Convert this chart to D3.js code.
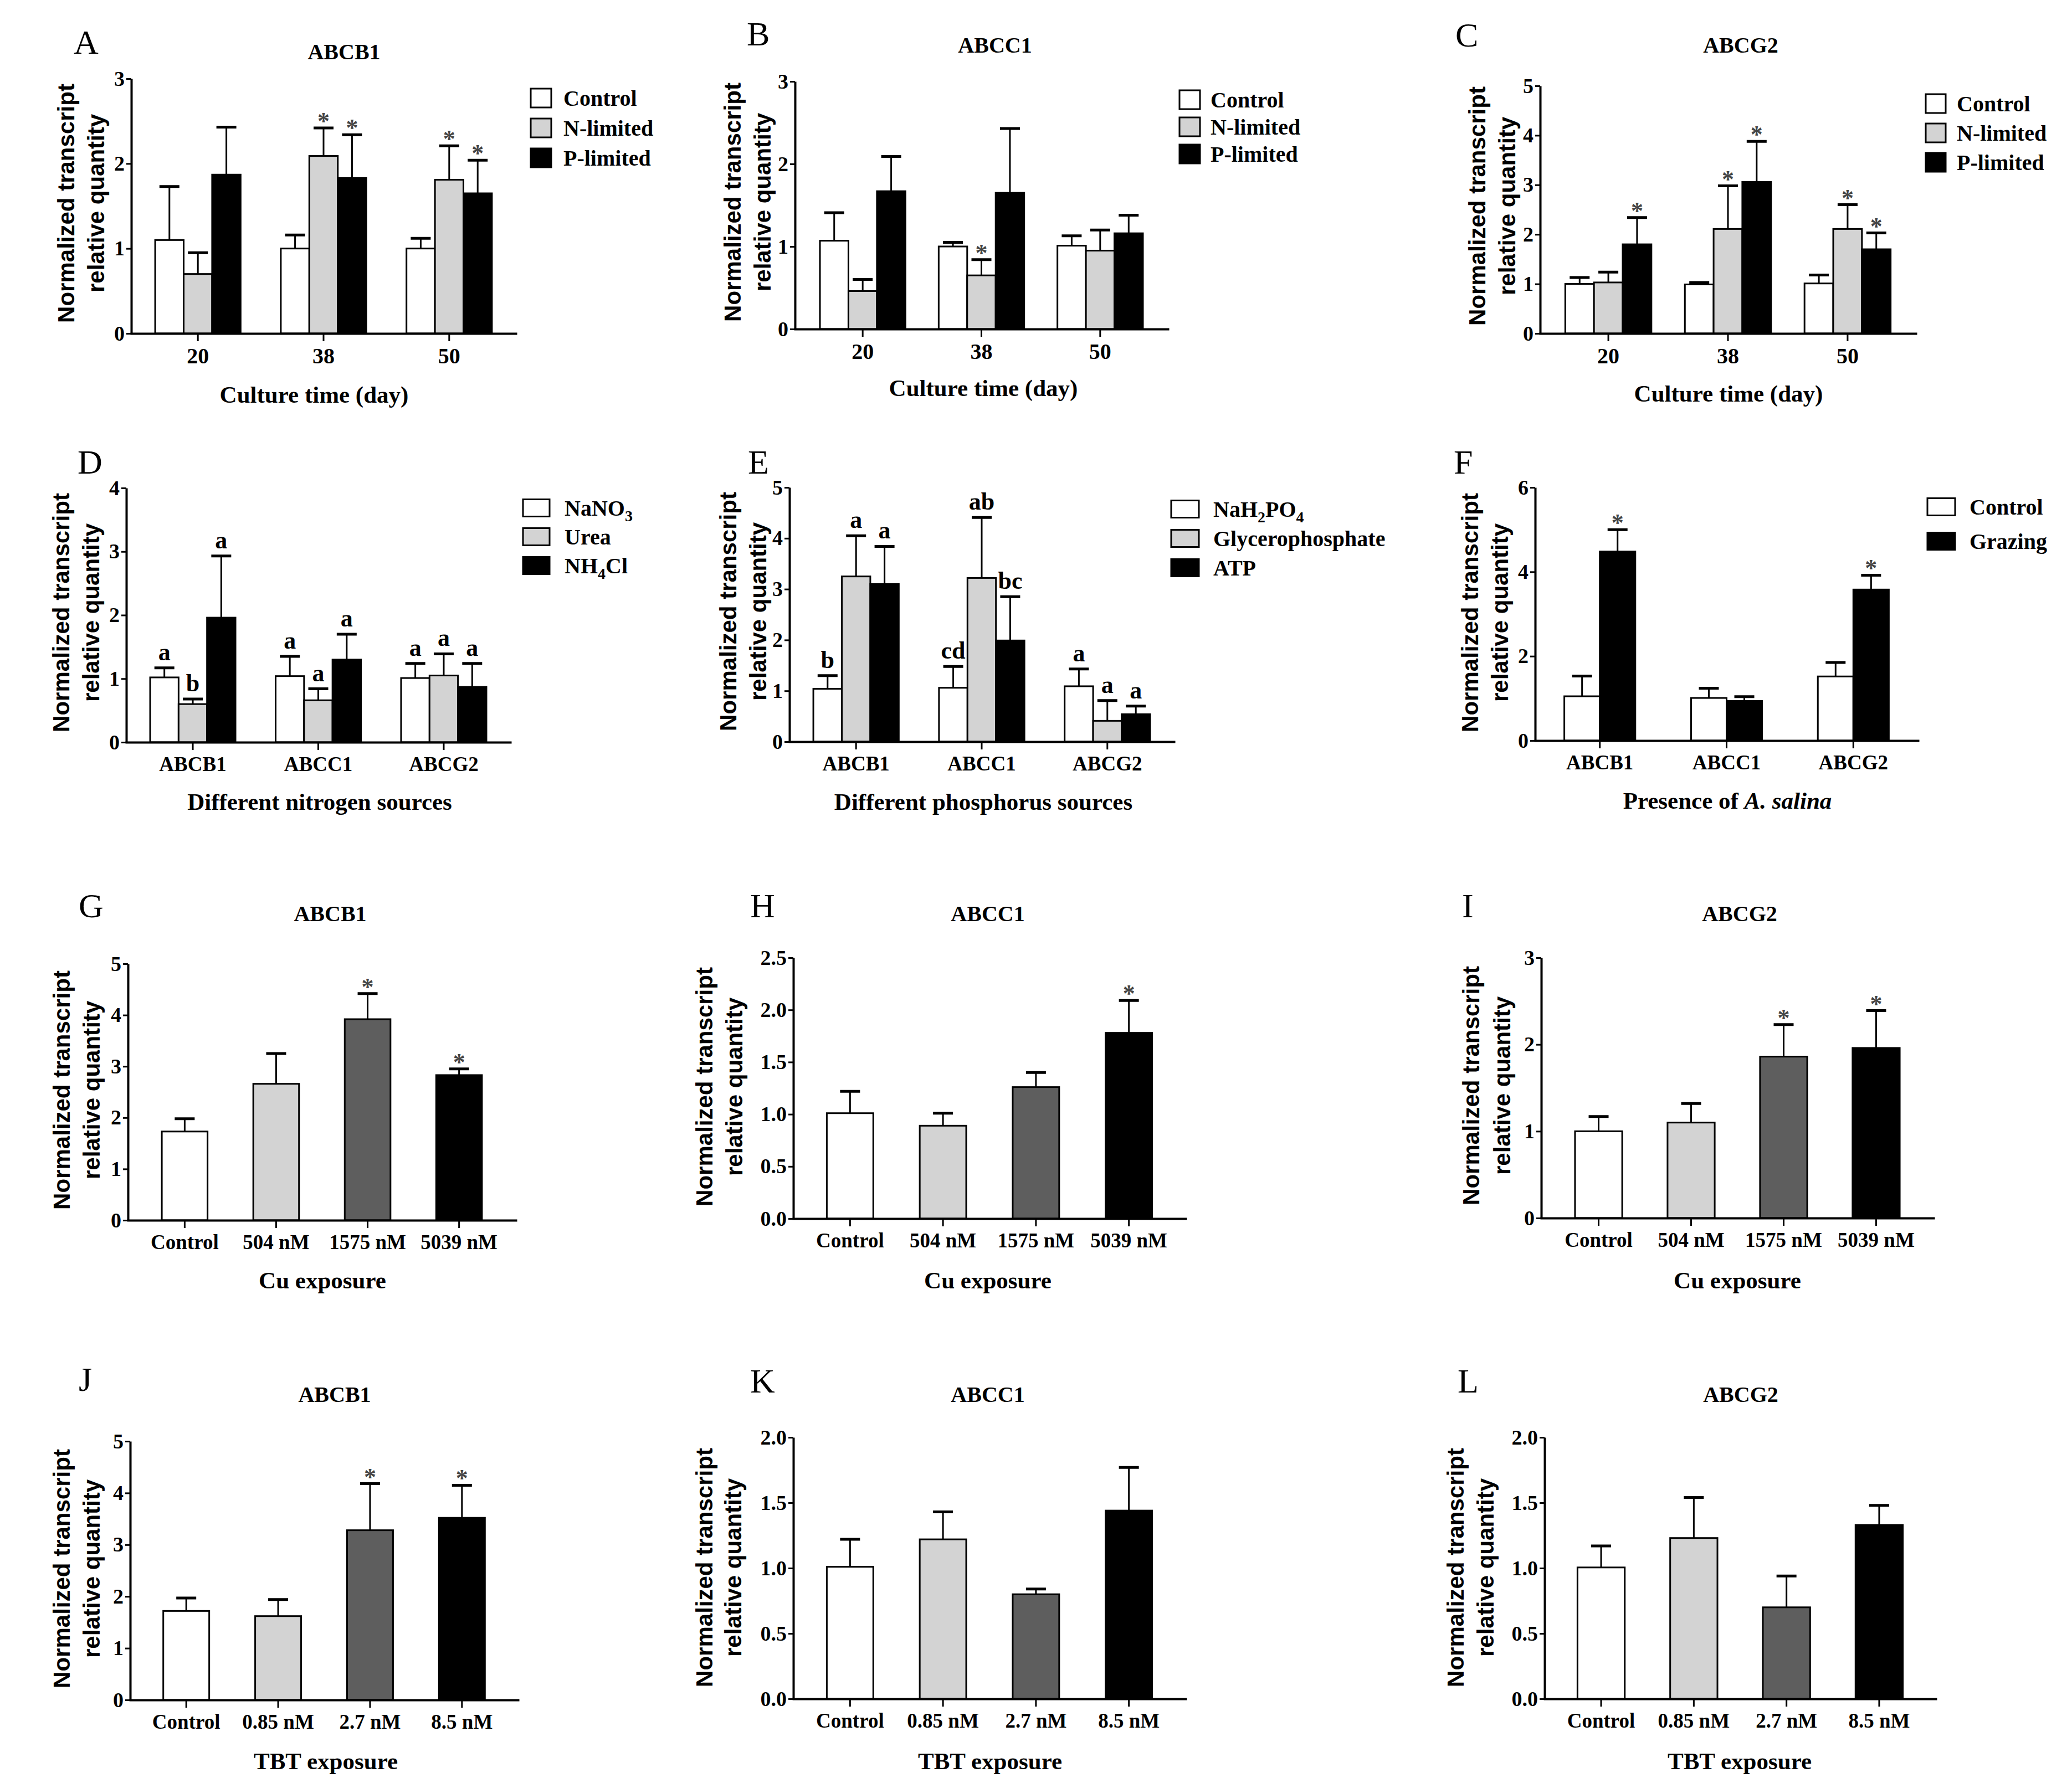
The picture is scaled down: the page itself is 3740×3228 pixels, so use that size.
<!DOCTYPE html>
<html>
<head>
<meta charset="utf-8">
<script src="https://cdn.jsdelivr.net/npm/d3@7"></script>
<style>
  body { margin: 0; background: #fff; }
  text { font-family: "Liberation Serif", "Times New Roman", serif; font-weight: bold; }
</style>
</head>
<body>
<svg id="fig"></svg>
<script>
// ---- categories ----
const cultureDays = ['20', '38', '50'];
const limitSeries = ['Control', 'N-limited', 'P-limited'];
const genes = ['ABCB1', 'ABCC1', 'ABCG2'];
const nSources = ['NaNO3', 'Urea', 'NH4Cl'];
const pSources = ['NaH2PO4', 'Glycerophosphate', 'ATP'];
const grazeSeries = ['Control', 'Grazing'];
const cuDoses = ['Control', '504 nM', '1575 nM', '5039 nM'];
const tbtDoses = ['Control', '0.85 nM', '2.7 nM', '8.5 nM'];

// ---- A-C: nutrient limitation, rows = day, cols = Control / N-limited / P-limited ----
const limAbcb1Mean = [[1.10, 0.70, 1.87], [1.00, 2.09, 1.83], [1.00, 1.81, 1.65]];
const limAbcb1Err  = [[0.63, 0.25, 0.56], [0.16, 0.33, 0.51], [0.12, 0.40, 0.39]];
const limAbcb1Sig  = [['', '', ''], ['', '*', '*'], ['', '*', '*']];

const limAbcc1Mean = [[1.07, 0.46, 1.67], [1.00, 0.65, 1.65], [1.01, 0.95, 1.16]];
const limAbcc1Err  = [[0.34, 0.14, 0.42], [0.05, 0.19, 0.78], [0.12, 0.25, 0.22]];
const limAbcc1Sig  = [['', '', ''], ['', '*', ''], ['', '', '']];

const limAbcg2Mean = [[1.00, 1.03, 1.80], [0.99, 2.11, 3.06], [1.01, 2.11, 1.70]];
const limAbcg2Err  = [[0.13, 0.21, 0.54], [0.04, 0.87, 0.82], [0.17, 0.49, 0.33]];
const limAbcg2Sig  = [['', '', '*'], ['', '*', '*'], ['', '*', '*']];

// ---- D: nitrogen source, rows = gene ----
const nitroMean = [[1.02, 0.60, 1.96], [1.04, 0.66, 1.30], [1.01, 1.05, 0.87]];
const nitroErr  = [[0.15, 0.08, 0.97], [0.31, 0.18, 0.40], [0.23, 0.34, 0.37]];
const nitroSig  = [['a', 'b', 'a'], ['a', 'a', 'a'], ['a', 'a', 'a']];

// ---- E: phosphorus source ----
const phosMean = [[1.04, 3.25, 3.10], [1.06, 3.22, 1.99], [1.09, 0.41, 0.54]];
const phosErr  = [[0.26, 0.80, 0.74], [0.42, 1.19, 0.86], [0.34, 0.40, 0.16]];
const phosSig  = [['b', 'a', 'a'], ['cd', 'ab', 'bc'], ['a', 'a', 'a']];

// ---- F: grazing ----
const grazeMean = [[1.05, 4.48], [1.01, 0.94], [1.52, 3.58]];
const grazeErr  = [[0.48, 0.52], [0.23, 0.10], [0.33, 0.34]];
const grazeSig  = [['', '*'], ['', ''], ['', '*']];

// ---- G-I: Cu exposure ----
const cuAbcb1Mean = [1.73, 2.66, 3.92, 2.83];
const cuAbcb1Err  = [0.25, 0.59, 0.50, 0.12];
const cuAbcb1Sig  = ['', '', '*', '*'];
const cuAbcc1Mean = [1.01, 0.89, 1.26, 1.78];
const cuAbcc1Err  = [0.21, 0.12, 0.14, 0.31];
const cuAbcc1Sig  = ['', '', '', '*'];
const cuAbcg2Mean = [1.00, 1.10, 1.86, 1.96];
const cuAbcg2Err  = [0.17, 0.22, 0.37, 0.43];
const cuAbcg2Sig  = ['', '', '*', '*'];

// ---- J-L: TBT exposure ----
const tbtAbcb1Mean = [1.72, 1.62, 3.28, 3.52];
const tbtAbcb1Err  = [0.25, 0.32, 0.90, 0.63];
const tbtAbcb1Sig  = ['', '', '*', '*'];
const tbtAbcc1Mean = [1.01, 1.22, 0.80, 1.44];
const tbtAbcc1Err  = [0.21, 0.21, 0.04, 0.33];
const tbtAbcc1Sig  = ['', '', '', ''];
const tbtAbcg2Mean = [1.005, 1.23, 0.70, 1.33];
const tbtAbcg2Err  = [0.165, 0.31, 0.24, 0.15];
const tbtAbcg2Sig  = ['', '', '', ''];

// ---- y tick values ----
const ticks3 = [0, 1, 2, 3];
const ticks4 = [0, 1, 2, 3, 4];
const ticks5 = [0, 1, 2, 3, 4, 5];
const ticks6 = [0, 2, 4, 6];
const ticks25 = [0, 0.5, 1, 1.5, 2, 2.5];
const ticks20 = [0, 0.5, 1, 1.5, 2];

const fill3 = ['#ffffff', '#d3d3d3', '#000000'];
const fill2 = ['#ffffff', '#000000'];
const fill4 = ['#ffffff', '#d3d3d3', '#5e5e5e', '#000000'];

const W = 3740, H = 3228;
const svg = d3.select('#fig').attr('width', W).attr('height', H);
svg.append('rect').attr('width', W).attr('height', H).attr('fill', '#fff');

const intFmt = d3.format('d');
const decFmt = d3.format('.1f');

// layout of each panel (pixel positions live here, not in the data)
const panels = [
  { id: 'A', letter: [133, 97], head: ['ABCB1', 621, 107],
    cats: cultureDays, series: limitSeries, mean: limAbcb1Mean, err: limAbcb1Err, sig: limAbcb1Sig,
    fills: fill3, ticks: ticks3, fmt: intFmt, x0: 237, x1: 931, y0: 602, yTop: 142, pi: 0.32, po: 0.19,
    xTitle: [['Culture time (day)']], xt: [567, 727], yLab: [119, 173, 367],
    legend: { x: 958, y: 177, dy: 54, w: 37, h: 34, tx: 1017 } },
  { id: 'B', letter: [1348, 82], head: ['ABCC1', 1796, 95],
    cats: cultureDays, series: limitSeries, mean: limAbcc1Mean, err: limAbcc1Err, sig: limAbcc1Sig,
    fills: fill3, ticks: ticks3, fmt: intFmt, x0: 1435, x1: 2108, y0: 594, yTop: 147, pi: 0.28, po: 0.21,
    xTitle: [['Culture time (day)']], xt: [1775, 715], yLab: [1322, 1376, 365],
    legend: { x: 2129, y: 180, dy: 49, w: 37, h: 34, tx: 2185 } },
  { id: 'C', letter: [2627, 84], head: ['ABCG2', 3142, 95],
    cats: cultureDays, series: limitSeries, mean: limAbcg2Mean, err: limAbcg2Err, sig: limAbcg2Sig,
    fills: fill3, ticks: ticks5, fmt: intFmt, x0: 2780, x1: 3458, y0: 602, yTop: 155, pi: 0.28, po: 0.21,
    xTitle: [['Culture time (day)']], xt: [3120, 725], yLab: [2666, 2720, 372],
    legend: { x: 3476, y: 187, dy: 53, w: 36, h: 34, tx: 3532 } },
  { id: 'D', letter: [140, 855], head: null,
    cats: genes, series: nSources, mean: nitroMean, err: nitroErr, sig: nitroSig,
    fills: fill3, ticks: ticks4, fmt: intFmt, x0: 228, x1: 921, y0: 1340, yTop: 881, pi: 0.32, po: 0.19,
    xTitle: [['Different nitrogen sources']], xt: [577, 1462], yLab: [110, 164, 1106],
    legend: { x: 944, y: 917, dy: 52, w: 48, h: 31, tx: 1019 } },
  { id: 'E', letter: [1350, 855], head: null,
    cats: genes, series: pSources, mean: phosMean, err: phosErr, sig: phosSig,
    fills: fill3, ticks: ticks5, fmt: intFmt, x0: 1425, x1: 2119, y0: 1339, yTop: 880, pi: 0.32, po: 0.19,
    xTitle: [['Different phosphorus sources']], xt: [1775, 1462], yLab: [1314, 1368, 1104],
    legend: { x: 2114, y: 919, dy: 53, w: 50, h: 31, tx: 2190 } },
  { id: 'F', letter: [2624, 855], head: null,
    cats: genes, series: grazeSeries, mean: grazeMean, err: grazeErr, sig: grazeSig,
    fills: fill2, ticks: ticks6, fmt: intFmt, x0: 2771, x1: 3462, y0: 1337, yTop: 880, pi: 0.44, po: 0.23,
    xTitle: [['Presence of '], ['A. salina', true]], xt: [3118, 1460], yLab: [2653, 2707, 1106],
    legend: { x: 3479, y: 915, dy: 62, w: 50, h: 31, tx: 3555 } },
  { id: 'G', letter: [142, 1656], head: ['ABCB1', 596, 1663],
    cats: cuDoses, mean: cuAbcb1Mean, err: cuAbcb1Err, sig: cuAbcb1Sig,
    fills: fill4, ticks: ticks5, fmt: intFmt, x0: 231, x1: 931, y0: 2203, yTop: 1740, pi: 0.5, po: 0.37,
    xTitle: [['Cu exposure']], xt: [582, 2326], yLab: [111, 165, 1968] },
  { id: 'H', letter: [1354, 1656], head: ['ABCC1', 1783, 1663],
    cats: cuDoses, mean: cuAbcc1Mean, err: cuAbcc1Err, sig: cuAbcc1Sig,
    fills: fill4, ticks: ticks25, fmt: decFmt, x0: 1432, x1: 2140, y0: 2200, yTop: 1729, pi: 0.5, po: 0.36,
    xTitle: [['Cu exposure']], xt: [1783, 2326], yLab: [1271, 1325, 1962] },
  { id: 'I', letter: [2639, 1656], head: ['ABCG2', 3140, 1663],
    cats: cuDoses, mean: cuAbcg2Mean, err: cuAbcg2Err, sig: cuAbcg2Sig,
    fills: fill4, ticks: ticks3, fmt: intFmt, x0: 2782, x1: 3490, y0: 2199, yTop: 1729, pi: 0.49, po: 0.365,
    xTitle: [['Cu exposure']], xt: [3136, 2326], yLab: [2655, 2711, 1960] },
  { id: 'J', letter: [142, 2511], head: ['ABCB1', 604, 2531],
    cats: tbtDoses, mean: tbtAbcb1Mean, err: tbtAbcb1Err, sig: tbtAbcb1Sig,
    fills: fill4, ticks: ticks5, fmt: intFmt, x0: 235, x1: 935, y0: 3069, yTop: 2602, pi: 0.5, po: 0.36,
    xTitle: [['TBT exposure']], xt: [588, 3194], yLab: [111, 165, 2832] },
  { id: 'K', letter: [1354, 2514], head: ['ABCC1', 1783, 2531],
    cats: tbtDoses, mean: tbtAbcc1Mean, err: tbtAbcc1Err, sig: tbtAbcc1Sig,
    fills: fill4, ticks: ticks20, fmt: decFmt, x0: 1432, x1: 2140, y0: 3067, yTop: 2595, pi: 0.5, po: 0.36,
    xTitle: [['TBT exposure']], xt: [1787, 3194], yLab: [1271, 1323, 2830] },
  { id: 'L', letter: [2631, 2514], head: ['ABCG2', 3142, 2531],
    cats: tbtDoses, mean: tbtAbcg2Mean, err: tbtAbcg2Err, sig: tbtAbcg2Sig,
    fills: fill4, ticks: ticks20, fmt: decFmt, x0: 2788, x1: 3494, y0: 3067, yTop: 2595, pi: 0.49, po: 0.355,
    xTitle: [['TBT exposure']], xt: [3140, 3194], yLab: [2627, 2681, 2830] }
];

// writes "NaH2PO4" style labels with digits as subscripts
const chemText = (sel, label) => {
  label.split(/(\d+)/).forEach((part, i) => {
    if (!part) return;
    const t = sel.append('tspan').text(part);
    if (i % 2 === 1) t.attr('font-size', 28).attr('dy', 10);
    else if (i > 0) t.attr('dy', -10);
  });
};

const render = p => {
  const g = svg.append('g').attr('class', 'panel-' + p.id);
  const grouped = Array.isArray(p.mean[0]);

  // one record per bar
  const bars = p.cats.flatMap((c, ci) => grouped
    ? p.mean[ci].map((m, si) => ({ cat: c, si, m, e: p.err[ci][si], s: p.sig[ci][si], fill: p.fills[si] }))
    : [{ cat: c, si: 0, m: p.mean[ci], e: p.err[ci], s: p.sig[ci], fill: p.fills[ci] }]);
  const nSeries = grouped ? p.mean[0].length : 1;

  const x = d3.scaleBand().domain(p.cats).range([p.x0, p.x1])
    .paddingInner(p.pi).paddingOuter(p.po);
  const xs = d3.scaleBand().domain(d3.range(nSeries)).range([0, x.bandwidth()]);
  const y = d3.scaleLinear().domain([0, d3.max(p.ticks)]).range([p.y0, p.yTop]);

  // bars
  g.selectAll('rect.bar').data(bars).join('rect')
      .attr('class', 'bar')
      .attr('x', d => x(d.cat) + xs(d.si))
      .attr('y', d => y(d.m))
      .attr('width', xs.bandwidth())
      .attr('height', d => p.y0 - y(d.m))
      .attr('fill', d => d.fill)
      .attr('stroke', '#000')
      .attr('stroke-width', 3);

  const cx = d => x(d.cat) + xs(d.si) + xs.bandwidth() / 2;
  const capW = 36;

  // error bars (upper only)
  g.selectAll('line.err').data(bars).join('line')
      .attr('class', 'err')
      .attr('x1', cx).attr('x2', cx)
      .attr('y1', d => y(d.m)).attr('y2', d => y(d.m + d.e))
      .attr('stroke', '#000').attr('stroke-width', 3);
  g.selectAll('line.cap').data(bars).join('line')
      .attr('class', 'cap')
      .attr('x1', d => cx(d) - capW / 2).attr('x2', d => cx(d) + capW / 2)
      .attr('y1', d => y(d.m + d.e)).attr('y2', d => y(d.m + d.e))
      .attr('stroke', '#000').attr('stroke-width', 5);

  // significance marks
  g.selectAll('text.sig').data(bars.filter(d => d.s)).join('text')
      .attr('class', 'sig')
      .attr('x', cx)
      .attr('y', d => y(d.m + d.e) + (d.s === '*' ? 2 : -14))
      .attr('text-anchor', 'middle')
      .attr('font-size', 44)
      .attr('fill', d => d.s === '*' ? '#444' : '#000')
      .text(d => d.s);

  // axes
  const yAxisG = g.append('g')
      .attr('transform', `translate(${p.x0},0)`)
      .call(d3.axisLeft(y).tickValues(p.ticks).tickFormat(p.fmt)
        .tickSize(9).tickSizeOuter(0).tickPadding(3));
  yAxisG.select('.domain').attr('stroke-width', 4);
  yAxisG.selectAll('.tick line').attr('stroke-width', 3);
  yAxisG.selectAll('text')
      .attr('font-family', '"Liberation Serif", serif')
      .attr('font-size', 38);

  const xAxisG = g.append('g')
      .attr('transform', `translate(0,${p.y0})`)
      .call(d3.axisBottom(x).tickSize(14).tickSizeOuter(0).tickPadding(12));
  xAxisG.select('.domain').attr('stroke-width', 4).attr('stroke-linecap', 'square');
  xAxisG.selectAll('.tick line').attr('stroke-width', 3);
  xAxisG.selectAll('text')
      .attr('font-family', '"Liberation Serif", serif')
      .attr('font-size', grouped && p.cats === cultureDays ? 40 : 37);

  // axis titles
  const xt = g.append('text')
      .attr('x', p.xt[0]).attr('y', p.xt[1])
      .attr('text-anchor', 'middle')
      .attr('font-size', 43);
  p.xTitle.forEach(([s, it]) => {
    xt.append('tspan').text(s).attr('font-style', it ? 'italic' : null);
  });

  ['Normalized transcript', 'relative quantity'].forEach((s, i) => {
    g.append('text')
        .attr('transform', `translate(${p.yLab[i]},${p.yLab[2]}) rotate(-90)`)
        .attr('text-anchor', 'middle')
        .attr('dy', '0.35em')
        .style('font-family', '"Liberation Sans", Arial, sans-serif')
        .attr('font-size', 42)
        .text(s);
  });

  // panel letter and gene title
  g.append('text')
      .attr('x', p.letter[0]).attr('y', p.letter[1])
      .style('font-weight', 'normal')
      .attr('font-size', 62)
      .text(p.id);
  if (p.head) {
    g.append('text')
        .attr('x', p.head[1]).attr('y', p.head[2])
        .attr('text-anchor', 'middle')
        .attr('font-size', 40)
        .text(p.head[0]);
  }

  // legend
  if (p.legend) {
    const L = p.legend;
    const items = g.append('g').selectAll('g').data(p.series).join('g')
        .attr('transform', (d, i) => `translate(0,${L.y + i * L.dy})`);
    items.append('rect')
        .attr('x', L.x).attr('y', -L.h / 2)
        .attr('width', L.w).attr('height', L.h)
        .attr('fill', (d, i) => p.fills[i])
        .attr('stroke', '#000').attr('stroke-width', 3);
    items.append('text')
        .attr('x', L.tx).attr('y', 0)
        .attr('dy', '0.35em')
        .attr('font-size', 40)
        .each(function (d) { chemText(d3.select(this), d); });
  }
};

panels.forEach(render);
</script>
</body>
</html>
